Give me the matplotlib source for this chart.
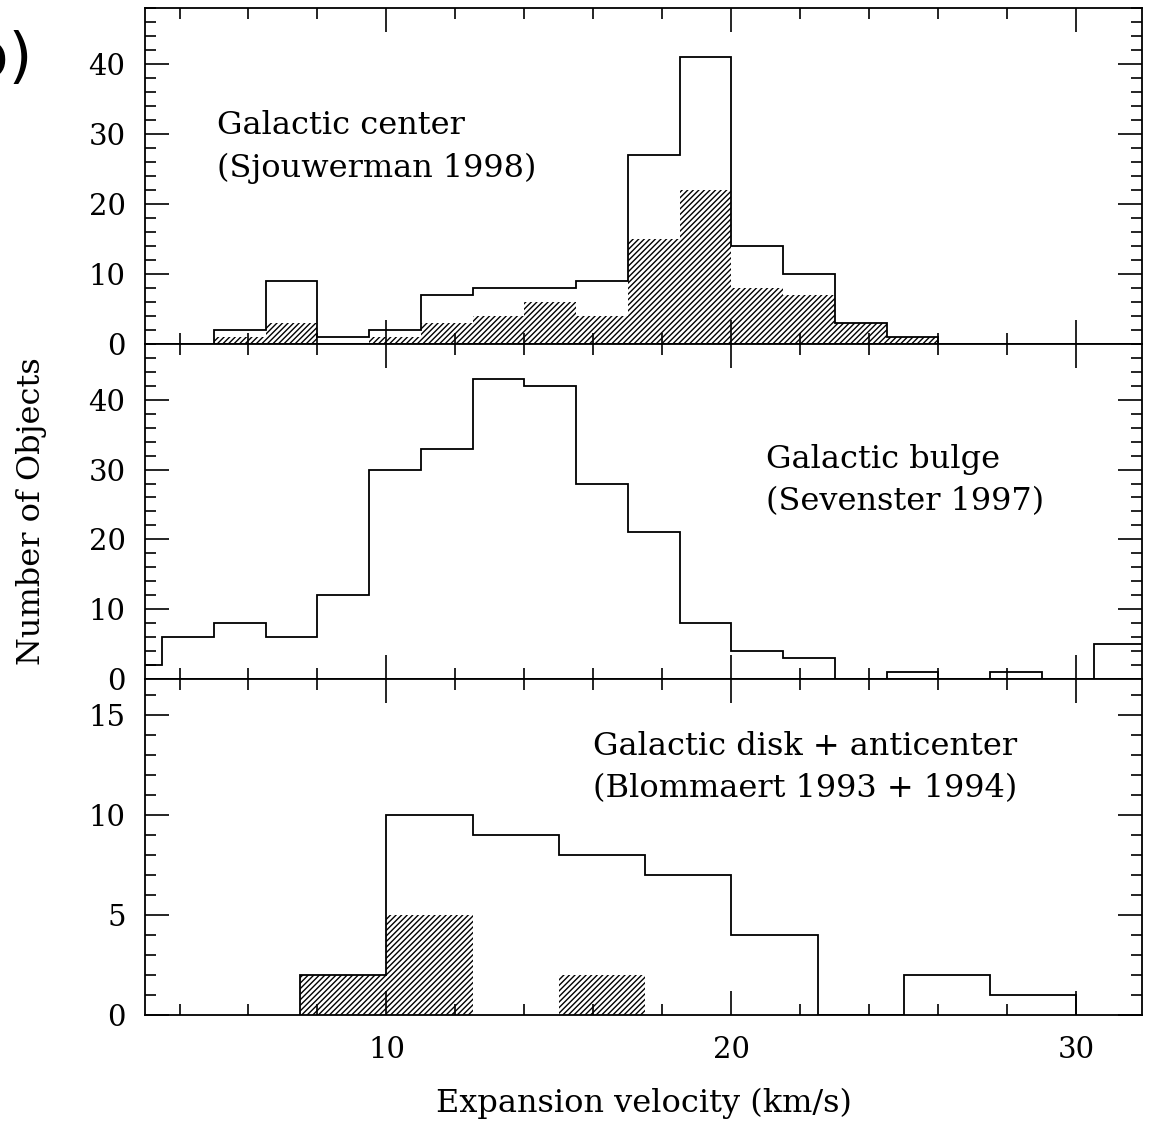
import matplotlib
matplotlib.use('Agg')  # no display
import matplotlib.pyplot as plt
from matplotlib.ticker import MultipleLocator

# Bin edges (km/s) and object counts for each sample
center_edges = [5, 6.5, 8, 9.5, 11, 12.5, 14, 15.5, 17, 18.5, 20, 21.5, 23, 24.5, 26]
center_all = [2, 9, 1, 2, 7, 8, 8, 9, 27, 41, 14, 10, 3, 1]
center_shaded = [1, 3, 0, 1, 3, 4, 6, 4, 15, 22, 8, 7, 3, 1]

bulge_edges = [2, 3.5, 5, 6.5, 8, 9.5, 11, 12.5, 14, 15.5, 17, 18.5, 20,
               21.5, 23, 24.5, 26, 27.5, 29, 30.5, 32]
bulge_all = [2, 6, 8, 6, 12, 30, 33, 43, 42, 28, 21, 8, 4, 3, 0, 1, 0, 1, 0, 5]

disk_edges = [7.5, 10, 12.5, 15, 17.5, 20, 22.5, 25, 27.5, 30]
disk_all = [2, 10, 9, 8, 7, 4, 0, 2, 1]
disk_shaded = [2, 5, 0, 2, 0, 0, 0, 0, 0]

panel_names = ["Galactic center\n(Sjouwerman 1998)",
               "Galactic bulge\n(Sevenster 1997)",
               "Galactic disk + anticenter\n(Blommaert 1993 + 1994)"]

plt.rcParams['font.family'] = 'DejaVu Serif'
plt.rcParams['hatch.linewidth'] = 1.0
plt.rcParams['axes.linewidth'] = 1.3

fig, axes = plt.subplots(3, 1, sharex=True, figsize=(11.49, 11.26), dpi=100,
                         gridspec_kw=dict(hspace=0))
fig.subplots_adjust(left=0.1262, right=0.9939, top=0.9929, bottom=0.0986)
ax_c, ax_b, ax_d = axes

# shaded subsets first, outlines on top
ax_c.stairs(center_shaded, center_edges, fill=True, facecolor='white',
            edgecolor='black', linewidth=0, hatch='//////', zorder=1)
ax_c.stairs(center_all, center_edges, color='black', linewidth=1.3, zorder=2)

ax_b.stairs(bulge_all, bulge_edges, color='black', linewidth=1.3, zorder=2)

ax_d.stairs(disk_shaded, disk_edges, fill=True, facecolor='white',
            edgecolor='black', linewidth=0, hatch='//////', zorder=1)
ax_d.stairs(disk_all, disk_edges, color='black', linewidth=1.3, zorder=2)

ax_c.set_ylim(0, 48)
ax_b.set_ylim(0, 48)
ax_d.set_ylim(0, 16.8)
ax_d.set_xlim(3, 31.9)

for ax in (ax_c, ax_b):
    ax.yaxis.set_major_locator(MultipleLocator(10))
    ax.yaxis.set_minor_locator(MultipleLocator(2))
ax_d.yaxis.set_major_locator(MultipleLocator(5))
ax_d.yaxis.set_minor_locator(MultipleLocator(1))
ax_d.xaxis.set_major_locator(MultipleLocator(10))
ax_d.xaxis.set_minor_locator(MultipleLocator(2))

for ax in axes:
    ax.tick_params(which='both', direction='in', top=True, right=True,
                   width=1.2, labelsize=21)
    ax.tick_params(which='major', length=17)
    ax.tick_params(which='minor', length=8)
    ax.tick_params(axis='x', pad=15)
    ax.tick_params(axis='y', pad=14)

ax_c.text(0.072, 0.586, panel_names[0], transform=ax_c.transAxes,
          ha='left', va='center', fontsize=23, linespacing=1.45)
ax_b.text(0.623, 0.592, panel_names[1], transform=ax_b.transAxes,
          ha='left', va='center', fontsize=23, linespacing=1.45)
ax_d.text(0.449, 0.737, panel_names[2], transform=ax_d.transAxes,
          ha='left', va='center', fontsize=23, linespacing=1.45)

ax_d.set_xlabel("Expansion velocity (km/s)", fontsize=23, labelpad=17)
fig.text(32 / 1149, 1 - 511 / 1126, "Number of Objects", rotation=90,
         ha='center', va='center', fontsize=23)

# panel tag, partly off the left edge
fig.text(33 / 1149, 1 - 60 / 1126, "(b)", ha='right', va='center',
         fontsize=44, family='DejaVu Sans')

fig.savefig('out.png', dpi=100)
